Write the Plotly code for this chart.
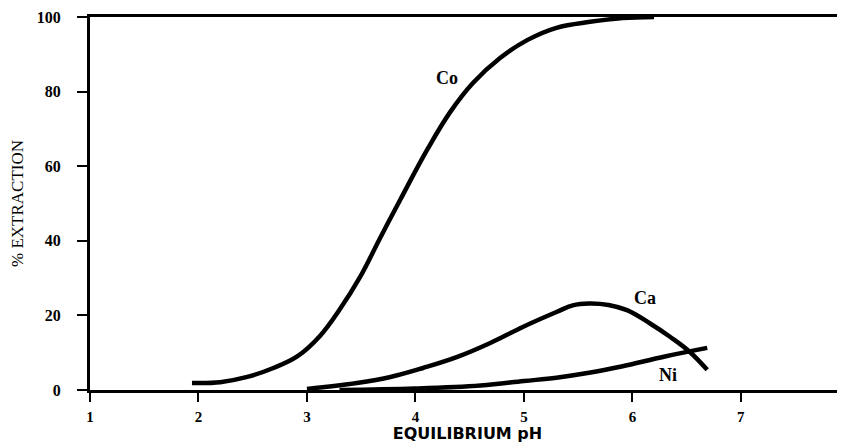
import plotly.graph_objects as go

# Co extraction
co_ph = [1.94, 2.20, 2.45, 2.69, 2.91, 3.12, 3.30, 3.49, 3.67, 3.86, 4.11, 4.32, 4.53, 4.78, 5.03, 5.30, 5.61, 5.91, 6.2]
co_ext = [1.9, 2.1, 3.5, 5.9, 9.0, 14.5, 21.5, 30.3, 40.5, 51.0, 64.5, 74.5, 82.3, 89.0, 93.8, 97.1, 98.7, 99.7, 100.0]

# Ca extraction
ca_ph = [3.0, 3.46, 3.77, 4.07, 4.38, 4.69, 4.99, 5.30, 5.45, 5.60, 5.78, 5.95, 6.16, 6.35, 6.53, 6.69]
ca_ext = [0.3, 1.9, 3.5, 5.9, 8.8, 12.6, 16.9, 20.9, 22.7, 23.2, 22.8, 21.4, 17.9, 14.2, 10.2, 5.4]

# Ni extraction
ni_ph = [3.3, 4.0, 4.6, 5.0, 5.3, 5.6, 5.9, 6.3, 6.69]
ni_ext = [0.0, 0.4, 1.2, 2.4, 3.3, 4.6, 6.3, 9.0, 11.3]

labels = [("Co", 4.29, 83.6), ("Ca", 6.12, 24.8), ("Ni", 6.33, 4.0)]

x_ticks = [1, 2, 3, 4, 5, 6, 7, 8]
y_ticks = [0, 20, 40, 60, 80, 100]

fig = go.Figure()
for xs, ys in [(co_ph, co_ext), (ca_ph, ca_ext), (ni_ph, ni_ext)]:
    fig.add_trace(go.Scatter(x=xs, y=ys, mode="lines",
                             line=dict(color="black", width=4.5, shape="spline", smoothing=1.1),
                             showlegend=False, hoverinfo="skip"))

for name, lx, ly in labels:
    fig.add_annotation(x=lx, y=ly, text=name, showarrow=False,
                       font=dict(family="Liberation Serif", size=18, color="black", weight="bold"))

fig.update_layout(
    width=837, height=435,
    margin=dict(l=82, r=0, t=9, b=53),
    paper_bgcolor="white", plot_bgcolor="white",
    font=dict(family="Liberation Serif", color="black"),
    xaxis=dict(range=[1, 7.96], tickvals=x_ticks, ticktext=[str(v) for v in x_ticks],
               showline=True, linecolor="black", linewidth=3, mirror=True,
               ticks="outside", ticklen=9, tickwidth=2, tickcolor="black",
               showgrid=False, zeroline=False, ticklabelstandoff=2,
               tickfont=dict(family="Liberation Serif", size=15, weight="bold"),
               title=dict(text="EQUILIBRIUM pH", standoff=7,
                          font=dict(family="DejaVu Sans", size=16, weight="bold"))),
    yaxis=dict(range=[0, 100], tickvals=y_ticks,
               showline=True, linecolor="black", linewidth=3,
               ticks="outside", ticklen=10, tickwidth=2, tickcolor="black",
               showgrid=False, zeroline=False, ticklabelstandoff=13,
               tickfont=dict(family="Liberation Serif", size=16, weight="bold"),
               title=dict(text="% EXTRACTION", standoff=12,
                          font=dict(family="Liberation Serif", size=17))),
)

fig.write_html("out.html")
